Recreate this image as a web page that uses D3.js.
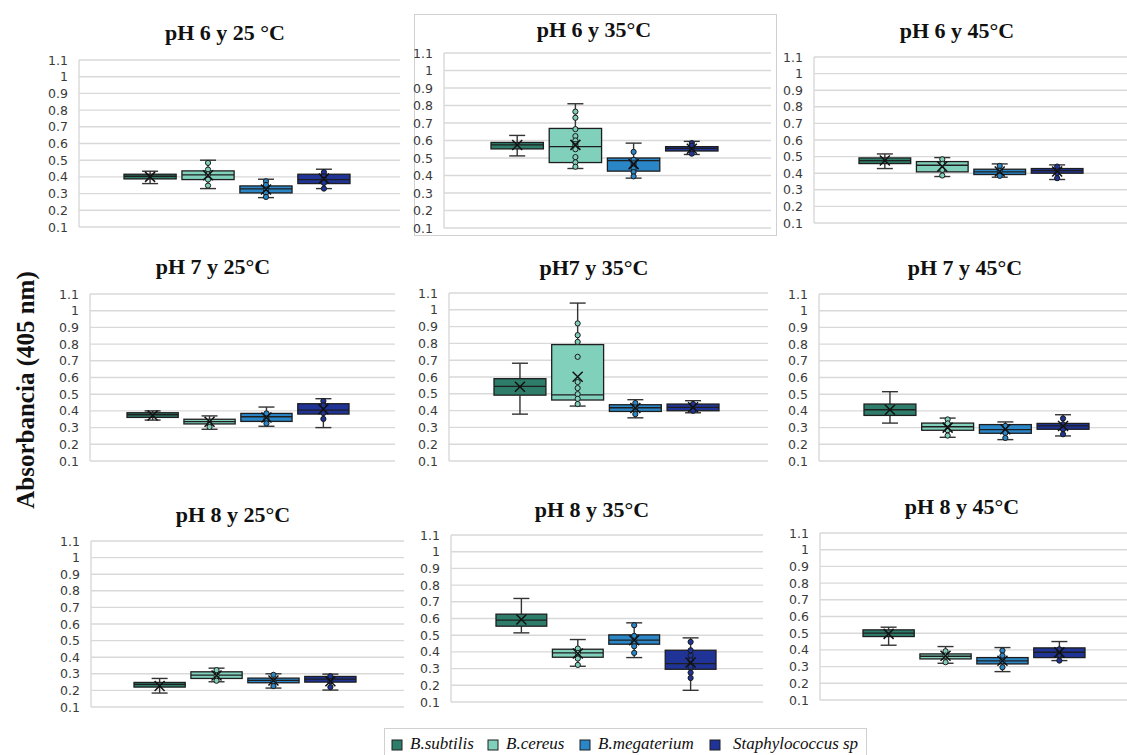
<!DOCTYPE html>
<html>
<head>
<meta charset="utf-8">
<script src="https://cdn.jsdelivr.net/npm/d3@7"></script>
<style>
  html, body { margin: 0; padding: 0; background: #fff; }
  svg { display: block; }
</style>
</head>
<body>
<svg id="chart" width="1127" height="755"></svg>
<script>
// ---------------- DATA ----------------
const seriesNames = ["B.subtilis", "B.cereus", "B.megaterium", "Staphylococcus sp"];
const seriesColors = ["#2e7d6b", "#80d0bc", "#2a86c6", "#1f3496"];
const yTickValues = [0.1, 0.2, 0.3, 0.4, 0.5, 0.6, 0.7, 0.8, 0.9, 1, 1.1];
const panelTitles = ["pH 6 y 25 °C", "pH 6 y 35°C", "pH 6 y 45°C",
                     "pH 7 y 25°C", "pH7 y 35°C", "pH 7 y 45°C",
                     "pH 8 y 25°C", "pH 8 y 35°C", "pH 8 y 45°C"];
const yAxisLabel = "Absorbancia (405 nm)";

// stats per series: [whiskerMin, q1, median, q3, whiskerMax, mean]
const stats_pH6_25 = [[0.36, 0.388, 0.404, 0.416, 0.434, 0.40], [0.33, 0.384, 0.412, 0.436, 0.50, 0.41], [0.276, 0.304, 0.328, 0.346, 0.386, 0.325], [0.33, 0.36, 0.384, 0.416, 0.446, 0.39]];
const stats_pH6_35 = [[0.512, 0.552, 0.575, 0.589, 0.629, 0.574], [0.44, 0.474, 0.565, 0.669, 0.810, 0.575], [0.385, 0.425, 0.485, 0.50, 0.585, 0.465], [0.52, 0.54, 0.555, 0.565, 0.595, 0.553]];
const stats_pH6_45 = [[0.428, 0.458, 0.476, 0.492, 0.516, 0.476], [0.38, 0.408, 0.448, 0.47, 0.494, 0.44], [0.376, 0.392, 0.408, 0.424, 0.456, 0.41], [0.362, 0.40, 0.416, 0.428, 0.45, 0.41]];
const stats_pH7_25 = [[0.345, 0.361, 0.377, 0.389, 0.40, 0.372], [0.29, 0.322, 0.336, 0.35, 0.37, 0.335], [0.308, 0.337, 0.365, 0.385, 0.423, 0.36], [0.30, 0.381, 0.405, 0.443, 0.473, 0.41]];
const stats_pH7_35 = [[0.379, 0.492, 0.544, 0.59, 0.682, 0.542], [0.427, 0.463, 0.494, 0.793, 1.04, 0.602], [0.357, 0.395, 0.417, 0.435, 0.465, 0.415], [0.387, 0.399, 0.419, 0.439, 0.459, 0.42]];
const stats_pH7_45 = [[0.327, 0.373, 0.407, 0.441, 0.515, 0.407], [0.242, 0.284, 0.305, 0.327, 0.357, 0.30], [0.228, 0.266, 0.288, 0.318, 0.334, 0.29], [0.25, 0.29, 0.31, 0.325, 0.377, 0.31]];
const stats_pH8_25 = [[0.184, 0.22, 0.236, 0.248, 0.272, 0.226], [0.252, 0.272, 0.292, 0.312, 0.334, 0.29], [0.214, 0.246, 0.26, 0.274, 0.30, 0.26], [0.202, 0.25, 0.268, 0.284, 0.298, 0.255]];
const stats_pH8_35 = [[0.514, 0.554, 0.59, 0.626, 0.72, 0.594], [0.314, 0.368, 0.394, 0.416, 0.474, 0.39], [0.366, 0.446, 0.47, 0.502, 0.574, 0.47], [0.17, 0.296, 0.33, 0.41, 0.484, 0.336]];
const stats_pH8_45 = [[0.428, 0.48, 0.50, 0.52, 0.536, 0.496], [0.32, 0.346, 0.362, 0.376, 0.42, 0.365], [0.27, 0.316, 0.334, 0.354, 0.414, 0.335], [0.336, 0.354, 0.386, 0.412, 0.45, 0.385]];

// inner points per series
const points_pH6_25 = [[], [0.484, 0.444, 0.416, 0.384, 0.348], [0.374, 0.352, 0.324, 0.304, 0.28], [0.428, 0.404, 0.384, 0.364, 0.33]];
const points_pH6_35 = [[], [0.765, 0.73, 0.665, 0.625, 0.60, 0.58, 0.57, 0.55, 0.505, 0.475, 0.45], [0.535, 0.49, 0.47, 0.455, 0.44, 0.42, 0.395], [0.585, 0.57, 0.545, 0.525]];
const points_pH6_45 = [[], [0.484, 0.456, 0.42, 0.386], [0.444, 0.414, 0.384], [0.44, 0.40, 0.37]];
const points_pH7_25 = [[], [0.32, 0.304], [0.385, 0.352, 0.325], [0.459, 0.433, 0.387, 0.352]];
const points_pH7_35 = [[], [0.919, 0.849, 0.809, 0.72, 0.57, 0.534, 0.498, 0.47, 0.439], [0.445, 0.419, 0.379], [0.439, 0.399]];
const points_pH7_45 = [[], [0.349, 0.325, 0.284, 0.252], [0.31, 0.268, 0.238], [0.355, 0.32, 0.29, 0.26]];
const points_pH8_25 = [[], [0.322, 0.288, 0.258], [0.294, 0.254, 0.226], [0.286, 0.254, 0.22]];
const points_pH8_35 = [[], [0.42, 0.394, 0.36, 0.322], [0.56, 0.496, 0.46, 0.434, 0.394], [0.46, 0.41, 0.378, 0.35, 0.31, 0.276, 0.244]];
const points_pH8_45 = [[], [0.392, 0.366, 0.326], [0.396, 0.366, 0.332, 0.296], [0.404, 0.37, 0.336]];

const panelStats = [stats_pH6_25, stats_pH6_35, stats_pH6_45, stats_pH7_25, stats_pH7_35, stats_pH7_45, stats_pH8_25, stats_pH8_35, stats_pH8_45];
const panelPoints = [points_pH6_25, points_pH6_35, points_pH6_45, points_pH7_25, points_pH7_35, points_pH7_45, points_pH8_25, points_pH8_35, points_pH8_45];

// ---------------- LAYOUT ----------------
// [plotLeft, yTop(1.1), yBottom(0.1), plotRight, titleCx, titleBaseline, boxStart, boxEnd]
const layout = [
  [79, 60, 227, 400, 225, 40, 124, 350],
  [444, 53, 228, 771, 594, 37, 491, 718],
  [814, 57, 223, 1127, 957, 38, 859, 1083],
  [90, 294, 461, 395, 213, 274, 127, 349],
  [449, 293, 461, 768, 594, 275, 494, 719],
  [819, 294, 461, 1127, 965, 275, 864, 1089],
  [91, 541, 707, 404, 233, 522, 134, 356],
  [451, 535, 702, 763, 592, 517, 496, 716],
  [820, 533, 700, 1127, 962, 514, 863, 1085]
];
const legendPos = [392, 488, 580, 710];
const serif = "'Liberation Serif', 'Times New Roman', Times, serif";
const sans = "'DejaVu Sans', Verdana, sans-serif";

const svg = d3.select("#chart");

// selected-chart frame around panel 2
svg.append("rect").attr("x", 414.5).attr("y", 14.5).attr("width", 362).attr("height", 221)
  .attr("fill", "none").attr("stroke", "#d0d0d0").attr("stroke-width", 1);

panelStats.forEach((stats, pi) => {
  const [L, T, B, R, tcx, tby, bs, be] = layout[pi];
  const g = svg.append("g");
  const y = d3.scaleLinear().domain([0.1, 1.1]).range([B, T]);
  const x = d3.scaleBand().domain(seriesNames).range([bs, be]).paddingInner(0.1).paddingOuter(0);

  // title
  g.append("text").attr("x", tcx).attr("y", tby).attr("text-anchor", "middle")
    .attr("font-family", serif).attr("font-weight", "bold").attr("font-size", 22)
    .attr("fill", "#111").text(panelTitles[pi]);

  // gridlines
  g.selectAll("line.grid").data(yTickValues).join("line").attr("class", "grid")
    .attr("x1", L).attr("x2", R).attr("y1", d => y(d)).attr("y2", d => y(d))
    .attr("stroke", "#d9d9d9").attr("stroke-width", 1.4);
  // vertical axis line
  g.append("line").attr("x1", L).attr("x2", L).attr("y1", T).attr("y2", B)
    .attr("stroke", "#d9d9d9").attr("stroke-width", 1.4);

  // y axis labels
  const ax = g.append("g").attr("transform", `translate(${L},0)`)
    .call(d3.axisLeft(y).tickValues(yTickValues).tickSize(0).tickPadding(11).tickFormat(d => String(d)));
  ax.select(".domain").remove();
  ax.selectAll("text").attr("font-family", sans).attr("font-size", 12.5).attr("fill", "#3a3a3a");

  stats.forEach((s, si) => {
    const [mn, q1, md, q3, mx, mean] = s;
    const name = seriesNames[si];
    const x0 = x(name), bw = x.bandwidth(), cx = x0 + bw / 2;
    const sg = g.append("g");
    const wc = "#333";
    // whiskers
    sg.append("line").attr("x1", cx).attr("x2", cx).attr("y1", y(mx)).attr("y2", y(q3)).attr("stroke", wc).attr("stroke-width", 1.4);
    sg.append("line").attr("x1", cx).attr("x2", cx).attr("y1", y(q1)).attr("y2", y(mn)).attr("stroke", wc).attr("stroke-width", 1.4);
    sg.append("line").attr("x1", cx - 8).attr("x2", cx + 8).attr("y1", y(mx)).attr("y2", y(mx)).attr("stroke", wc).attr("stroke-width", 1.4);
    sg.append("line").attr("x1", cx - 8).attr("x2", cx + 8).attr("y1", y(mn)).attr("y2", y(mn)).attr("stroke", wc).attr("stroke-width", 1.4);
    // box
    sg.append("rect").attr("x", x0).attr("width", bw).attr("y", y(q3)).attr("height", y(q1) - y(q3))
      .attr("fill", seriesColors[si]).attr("stroke", "#1e1e1e").attr("stroke-width", 1.3);
    sg.append("line").attr("x1", x0).attr("x2", x0 + bw).attr("y1", y(md)).attr("y2", y(md))
      .attr("stroke", "#1e1e1e").attr("stroke-width", 1.3);
    // inner points
    sg.selectAll("circle").data(panelPoints[pi][si]).join("circle")
      .attr("cx", cx).attr("cy", d => y(d)).attr("r", 2.6)
      .attr("fill", seriesColors[si]).attr("stroke", "#1a1a1a").attr("stroke-width", 1);
    // mean marker
    const my = y(mean), h = 5;
    sg.append("path").attr("d", `M${cx - h},${my - h}L${cx + h},${my + h}M${cx - h},${my + h}L${cx + h},${my - h}`)
      .attr("stroke", "#111").attr("stroke-width", 1.5).attr("fill", "none");
  });
});

// y axis title
svg.append("text").attr("transform", "translate(34,390) rotate(-90)")
  .attr("text-anchor", "middle").attr("font-family", serif).attr("font-weight", "bold")
  .attr("font-size", 25).attr("fill", "#111").text(yAxisLabel);

// legend
svg.append("rect").attr("x", 384.5).attr("y", 728.5).attr("width", 482).attr("height", 40)
  .attr("fill", "#fff").attr("stroke", "#d0d0d0");
seriesNames.forEach((n, i) => {
  const lx = legendPos[i];
  svg.append("rect").attr("x", lx).attr("y", 740).attr("width", 10).attr("height", 10)
    .attr("fill", seriesColors[i]).attr("stroke", "#1e1e1e").attr("stroke-width", 1);
  svg.append("text").attr("x", lx + (i === 3 ? 23 : 18)).attr("y", 749)
    .attr("font-family", serif).attr("font-style", "italic").attr("font-size", 17)
    .attr("fill", "#111").text(n);
});
</script>
</body>
</html>
